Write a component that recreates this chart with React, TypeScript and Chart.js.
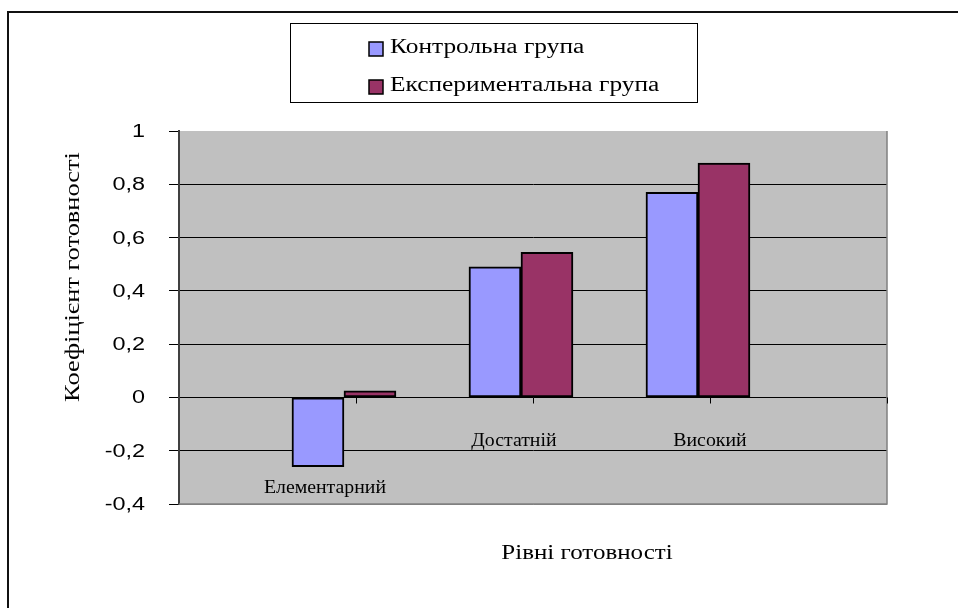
import { useEffect, useRef } from 'react';
import { Chart, registerables } from 'chart.js';

Chart.register(...registerables);

// ---- data ----
const categories = ['Елементарний', 'Достатній', 'Високий'];
const seriesNames = ['Контрольна група', 'Експериментальна група'];
const controlGroup = [-0.26, 0.49, 0.77];
const experimentalGroup = [0.025, 0.545, 0.88];
const yTickValues = [-0.4, -0.2, 0, 0.2, 0.4, 0.6, 0.8, 1];
const yAxisTitle = 'Коефіцієнт готовності';
const xAxisTitle = 'Рівні готовності';

// ---- styles / layout ----
const COLORS = ['#9999FF', '#993366'];
const SERIF = '"Liberation Serif", "Times New Roman", serif';
const SANS = '"Liberation Sans", Arial, sans-serif';
const X_MIN = 0.068;
const X_MAX = 4.068;
const LABEL_DX = [-19, -7, 12];
const LABEL_BASE = [-0.357, -0.181, -0.181];

const fmt = (v: number) => String(Math.round(v * 10) / 10).replace('.', ',');

function stretchText(ctx: CanvasRenderingContext2D, text: string, x: number, y: number, sx: number, align: CanvasTextAlign) {
  ctx.save();
  ctx.translate(x, y);
  ctx.scale(sx, 1);
  ctx.textAlign = align;
  ctx.fillText(text, 0, 0);
  ctx.restore();
}

const decor = {
  id: 'decor',
  beforeDraw(chart: any) {
    const { ctx, chartArea: a } = chart;
    ctx.save();
    ctx.fillStyle = '#ffffff';
    ctx.fillRect(0, 0, chart.width, chart.height);
    ctx.fillStyle = '#C0C0C0';
    ctx.fillRect(a.left, a.top, a.right - a.left, a.bottom - a.top);
    ctx.restore();
  },
  afterDraw(chart: any) {
    const { ctx, chartArea: a } = chart;
    const xs = chart.scales.x;
    const ys = chart.scales.y;
    ctx.save();
    // plot border (right, bottom)
    ctx.strokeStyle = '#808080';
    ctx.lineWidth = 1.5;
    ctx.beginPath();
    ctx.moveTo(a.right, a.top);
    ctx.lineTo(a.right, a.bottom);
    ctx.lineTo(a.left, a.bottom);
    ctx.stroke();
    // category axis tick marks at zero line
    const y0 = Math.round(ys.getPixelForValue(0)) + 0.5;
    ctx.strokeStyle = '#000';
    ctx.lineWidth = 1;
    for (let k = 1; k <= categories.length + 1; k++) {
      const x = Math.round(xs.getPixelForValue(X_MIN + k)) + 0.5;
      ctx.beginPath();
      ctx.moveTo(x, y0);
      ctx.lineTo(x, y0 + 6);
      ctx.stroke();
    }
    ctx.fillStyle = '#000';
    // y tick labels
    ctx.font = `18px ${SANS}`;
    ctx.textBaseline = 'middle';
    ys.ticks.forEach((t: any) => {
      stretchText(ctx, fmt(t.value), 145, ys.getPixelForValue(t.value) + 1, 1.3, 'right');
    });
    // category labels
    ctx.font = `18px ${SERIF}`;
    ctx.textBaseline = 'alphabetic';
    categories.forEach((c, i) => {
      const x = xs.getPixelForValue(i + 1) + LABEL_DX[i];
      const y = ys.getPixelForValue(LABEL_BASE[i]);
      stretchText(ctx, c, x, y, 1.1, 'center');
    });
    // axis titles
    ctx.font = `21px ${SERIF}`;
    stretchText(ctx, xAxisTitle, 587, 559, 1.19, 'center');
    ctx.save();
    ctx.translate(73, 277);
    ctx.rotate(-Math.PI / 2);
    ctx.scale(1.2, 1);
    ctx.font = `22px ${SERIF}`;
    ctx.textAlign = 'center';
    ctx.textBaseline = 'middle';
    ctx.fillText(yAxisTitle, 0, 0);
    ctx.restore();
    // legend
    ctx.strokeStyle = '#000';
    ctx.lineWidth = 1;
    ctx.strokeRect(290.5, 23.5, 407, 79);
    ctx.font = `20px ${SERIF}`;
    ctx.textBaseline = 'alphabetic';
    chart.data.datasets.forEach((ds: any, i: number) => {
      const cy = 49 + i * 38;
      ctx.fillStyle = ds.backgroundColor;
      ctx.fillRect(369, cy - 7, 14, 14);
      ctx.lineWidth = 1.5;
      ctx.strokeStyle = '#000';
      ctx.strokeRect(369, cy - 7, 14, 14);
      ctx.fillStyle = '#000';
      stretchText(ctx, ds.label, 390, 53 + i * 38, 1.27, 'left');
    });
    // outer frame
    ctx.fillStyle = '#111';
    ctx.fillRect(7, 11, 951, 2);
    ctx.fillRect(7, 11, 2, chart.height - 11);
    ctx.restore();
  },
};

export default function App() {
  const ref = useRef<HTMLCanvasElement | null>(null);
  useEffect(() => {
    if (!ref.current) return;
    const series = [controlGroup, experimentalGroup];
    const chart = new Chart(ref.current, {
      type: 'bar',
      data: {
        datasets: series.map((vals, si) => ({
          label: seriesNames[si],
          data: vals.map((v, i) => ({ x: i + 1, y: v })),
          backgroundColor: COLORS[si],
          borderColor: '#000',
          borderWidth: 2,
          borderSkipped: false,
          barThickness: 52,
        })),
      },
      options: {
        responsive: false,
        animation: false,
        devicePixelRatio: 1,
        layout: { padding: { left: 0, top: 131, right: 71, bottom: 104 } },
        plugins: { legend: { display: false }, tooltip: { enabled: false } },
        scales: {
          x: { type: 'linear', min: X_MIN, max: X_MAX, display: false, offset: false },
          y: {
            min: -0.4,
            max: 1,
            afterBuildTicks: (s: any) => {
              s.ticks = yTickValues.map((v) => ({ value: v }));
            },
            afterFit: (s: any) => {
              s.width = 179;
            },
            ticks: { display: false },
            grid: {
              color: (c: any) => {
                const v = c.tick ? c.tick.value : 0;
                if (Math.abs(v - 1) < 1e-6) return 'rgba(0,0,0,0)';
                if (Math.abs(v + 0.4) < 1e-6) return '#808080';
                return '#000';
              },
              lineWidth: 1,
              tickLength: 10,
              tickColor: '#000',
              drawTicks: true,
            },
            border: { display: true, color: '#404040', width: 2 },
          },
        },
      },
      plugins: [decor],
    } as any);
    return () => chart.destroy();
  }, []);
  return (
    <div style={{ position: 'fixed', left: 0, top: 0, width: 958, height: 608, background: '#fff' }}>
      <canvas ref={ref} width={958} height={608} style={{ display: 'block', width: 958, height: 608 }} />
    </div>
  );
}
